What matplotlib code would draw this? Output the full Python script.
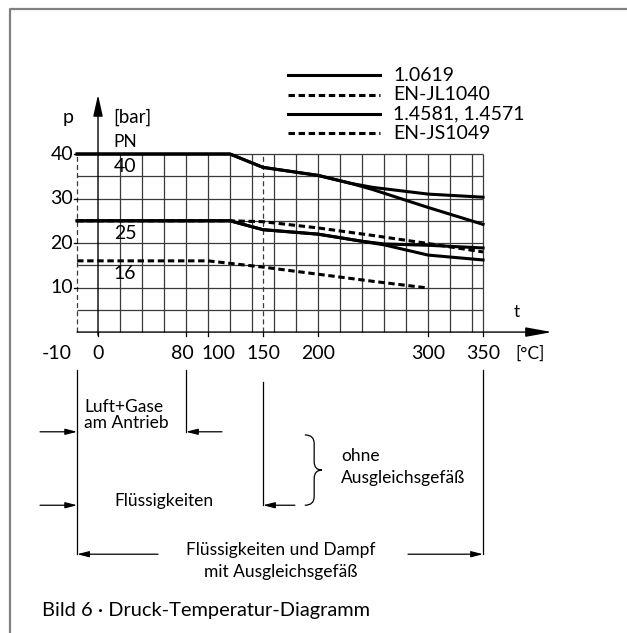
import numpy as np
import matplotlib
matplotlib.use("Agg")
import matplotlib.pyplot as plt
from matplotlib.patches import ArrowStyle, PathPatch
from matplotlib.path import Path

plt.rcParams['font.family'] = ['Lato', 'DejaVu Sans']

# pressure p [bar] over temperature t [degC]
t_14581_40 = [-10, 120, 150, 200, 230, 250, 300, 350]
p_14581_40 = [40, 40, 37.0, 35.2, 33.4, 32.5, 31.0, 30.3]
t_10619_40 = [-10, 120, 150, 200, 230, 250, 300, 350]
p_10619_40 = [40, 40, 37.0, 35.2, 33.4, 32.0, 28.0, 24.2]
t_14581_25 = [-10, 120, 150, 200, 240, 260, 300, 350]
p_14581_25 = [25, 25, 23.0, 22.0, 20.4, 19.8, 19.5, 18.9]
t_10619_25 = [-10, 120, 150, 200, 240, 260, 300, 350]
p_10619_25 = [25, 25, 23.0, 22.0, 20.4, 19.6, 17.3, 16.2]
t_js1049 = [-10, 120, 150, 200, 250, 300, 350]
p_js1049 = [25, 25, 24.8, 23.4, 21.7, 19.9, 18.0]
t_jl1040 = [-10, 100, 150, 200, 250, 300]
p_jl1040 = [16, 16, 14.6, 13.0, 11.4, 9.9]

legend_labels = ['1.0619', 'EN-JL1040', '1.4581, 1.4571', 'EN-JS1049']
legend_dashed = [False, True, False, True]
x_ticks = [-10, 0, 80, 100, 150, 200, 300, 350]
y_ticks = [10, 20, 30, 40]
pn_values = [40, 25, 16]


def tx(t):
    # the -10 edge is drawn wider than to scale
    t = np.asarray(t, dtype=float)
    return np.where(t < 0, t * 1.9, t)


fig = plt.figure(figsize=(6.27, 6.33), dpi=100)
ax = fig.add_axes([0, 0, 1, 1])
ax.set_xlim(-89.1, 480.9)
ax.set_ylim(-67.6, 74.6)
ax.axis('off')

FS = 12.5     # words
FN = 14       # numbers
grid_c = '#3a3a3a'
x0 = float(tx(-10))

# frame (top and left only)
ax.plot([10 / 627, 10 / 627, 1], [0, 1 - 9 / 633, 1 - 9 / 633], transform=ax.transAxes,
        color='#808080', lw=1.6, clip_on=False)

# grid
ax.vlines(list(range(20, 350, 20)) + [350], 0, 40, color=grid_c, lw=0.9)
ax.hlines(range(5, 45, 5), x0, 350, color=grid_c, lw=0.9)
for xv in [x0, 150]:
    ax.plot([xv, xv], [0, 40], color=grid_c, lw=0.9, dashes=(4, 2.5))


def arrow(xa, ya, xb, yb, hl=7, hw=1.8, lw=0.9):
    ax.annotate('', xy=(xb, yb), xytext=(xa, ya),
                arrowprops=dict(arrowstyle=ArrowStyle('-|>', head_length=hl, head_width=hw),
                                mutation_scale=1, lw=lw, color='black',
                                shrinkA=0, shrinkB=0))


# axes with arrows
arrow(x0, 0, 412.7, 0, hl=16, hw=2.9, lw=1.0)
arrow(0, -0.7, 0, 53.3, hl=13, hw=2.9, lw=1.0)

# ticks
for t in x_ticks:
    xv = float(tx(t))
    if t != -10:
        ax.plot([xv, xv], [0, -0.8], color='black', lw=0.9)
for p in y_ticks:
    ax.plot([x0 - 3, x0], [p, p], color='black', lw=0.9)
    ax.text(x0 - 3.5, p, str(p), ha='right', va='center', fontsize=FN)

tick_shift = {-10: -18.3, 80: -3.5, 100: 9.5}
for t in x_ticks:
    ax.text(float(tx(t)) + tick_shift.get(t, 0), -4.8, str(t), ha='center', va='center', fontsize=FN)
ax.text(392.7, -4.8, '[°C]', ha='center', va='center', fontsize=FS)
ax.text(381, 4.5, 't', ha='center', va='center', fontsize=FS)
ax.text(-27.3, 48.3, 'p', ha='center', va='center', fontsize=FN)
ax.text(13.6, 48.3, '[bar]', ha='left', va='center', fontsize=13.5)
ax.text(13.6, 42.7, 'PN', ha='left', va='center', fontsize=FS)
for pn in pn_values:
    ax.text(14.5, pn - 2.9, str(pn), ha='left', va='center', fontsize=FN)

# curves
curve_lw = 2.2
dash = (2.1, 1.2)
for t, p in [(t_10619_40, p_10619_40), (t_14581_40, p_14581_40),
             (t_10619_25, p_10619_25), (t_14581_25, p_14581_25)]:
    ax.plot(tx(t), p, color='black', lw=curve_lw, solid_joinstyle='round')
for t, p in [(t_js1049, p_js1049), (t_jl1040, p_jl1040)]:
    ax.plot(tx(t), p, color='black', lw=curve_lw, dashes=dash)

# legend
leg_y = [57.75, 53.26, 48.99, 44.72]
for lab, dashed, y in zip(legend_labels, legend_dashed, leg_y):
    if dashed:
        ax.plot([172.7, 256.4], [y, y], color='black', lw=curve_lw, dashes=dash)
    else:
        ax.plot([172.7, 256.4], [y, y], color='black', lw=curve_lw)
    ax.text(268.2, y, lab, ha='left', va='center', fontsize=FN)

# ranges below the chart
lc = 'black'
ax.plot([x0, x0], [-8.5, -49.9], color=lc, lw=0.9)
ax.plot([350, 350], [-8.5, -49.9], color=lc, lw=0.9)
ax.plot([80, 80], [-8.5, -22.4], color=lc, lw=0.9)
ax.plot([150, 150], [-11.2, -38.9], color=lc, lw=0.9)

ax.text(-12.7, -18.6, 'Luft+Gase\nam Antrieb', ha='left', va='center', fontsize=FS,
        linespacing=0.95)
arrow(-52.7, -22.4, x0, -22.4)
arrow(112.7, -22.4, 80, -22.4)

ax.text(60, -38.0, 'Flüssigkeiten', ha='center', va='center', fontsize=FS)
arrow(-52.7, -38.9, x0, -38.9)
arrow(179, -38.9, 150, -38.9)

# brace
bx0, bxm, bxt = 188, 196.5, 203.6
by0, bym, by1 = -23.1, -31.0, -38.9
verts = [(bx0, by0), (bxm, by0), (bxm, by0 - 1.9),
         (bxm, bym + 1.9),
         (bxm, bym), (bxt, bym),
         (bxm, bym), (bxm, bym - 1.9),
         (bxm, by1 + 1.9),
         (bxm, by1), (bx0, by1)]
codes = [Path.MOVETO, Path.CURVE3, Path.CURVE3,
         Path.LINETO,
         Path.CURVE3, Path.CURVE3,
         Path.CURVE3, Path.CURVE3,
         Path.LINETO,
         Path.CURVE3, Path.CURVE3]
ax.add_patch(PathPatch(Path(verts, codes), fill=False, lw=0.9, edgecolor='black'))
ax.text(221, -27.8, 'ohne', ha='left', va='center', fontsize=FS)
ax.text(221, -32.8, 'Ausgleichsgefäß', ha='left', va='center', fontsize=FS)

ax.text(166.4, -49.0, 'Flüssigkeiten und Dampf', ha='center', va='center', fontsize=FS)
ax.text(166.4, -54.0, 'mit Ausgleichsgefäß', ha='center', va='center', fontsize=FS)
arrow(54.5, -49.9, x0, -49.9)
arrow(281.8, -49.9, 350, -49.9)

ax.text(-50.9, -62.5, 'Bild 6 · Druck-Temperatur-Diagramm', ha='left', va='center', fontsize=14.4)

fig.savefig('out.png', dpi=100)
